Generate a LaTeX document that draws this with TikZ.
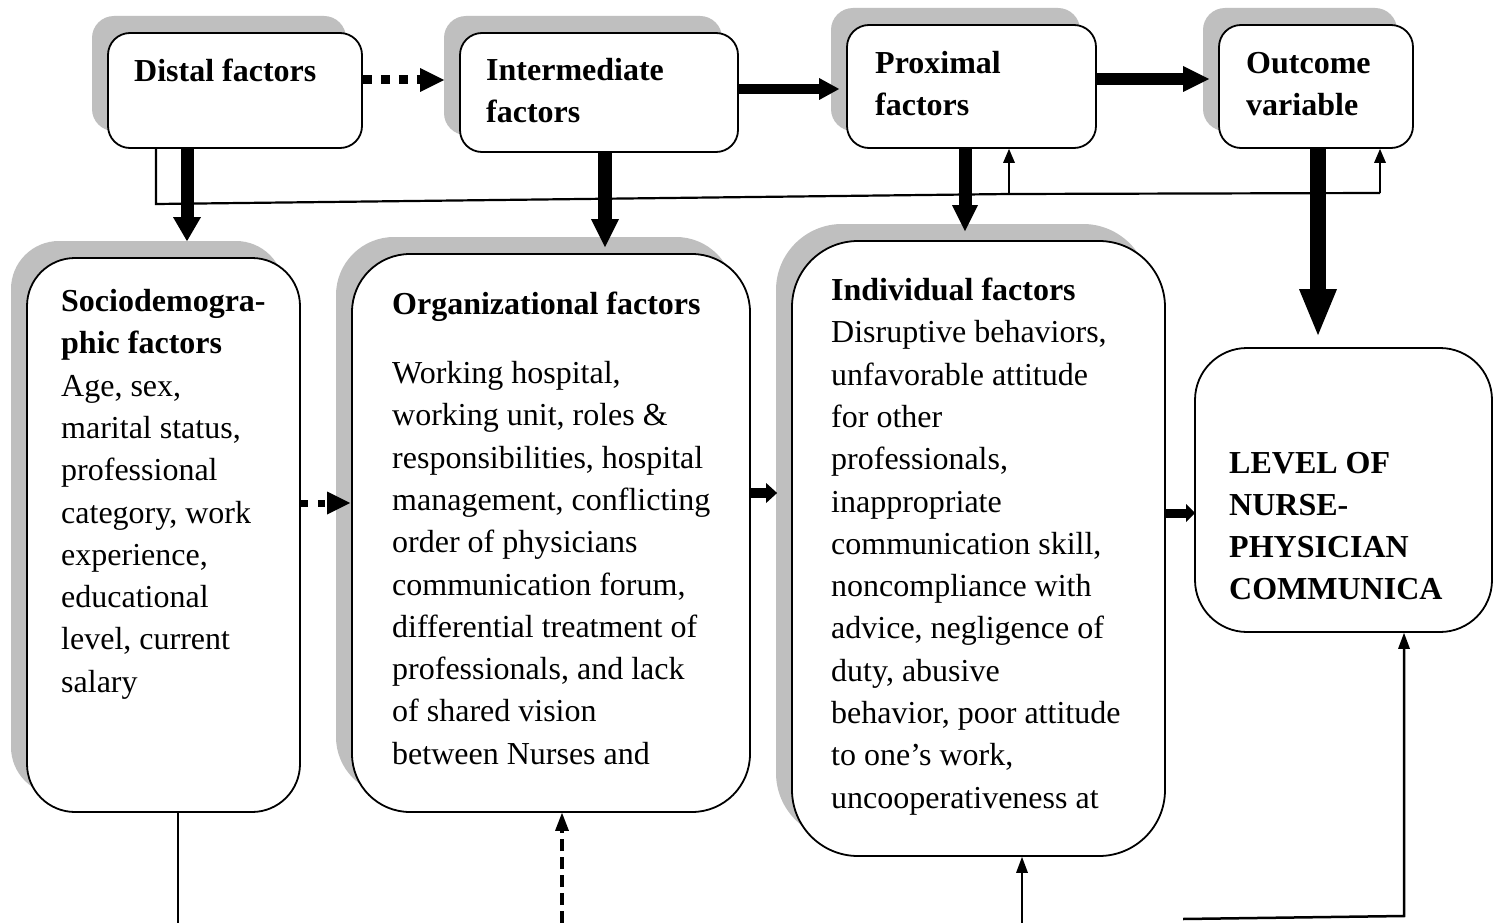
\documentclass[tikz,border=0pt]{standalone}
\usepackage{fontspec}
\setmainfont{Liberation Serif}
\usetikzlibrary{arrows.meta,shadows,calc}
\definecolor{shadowgray}{HTML}{BFBFBF}
\newcommand{\txtblock}[1]{\parbox[t]{14cm}{\fontsize{32}{42.3}\selectfont #1}}
\begin{document}
\begin{tikzpicture}[x=1pt,y=-1pt,
  box/.style={draw=black, line width=1.8pt, fill=white, rounded corners=#1, inner sep=0pt,
    general shadow={fill=shadowgray, shadow xshift=-16pt, shadow yshift=17pt}},
  plainbox/.style={draw=black, line width=1.8pt, fill=white, rounded corners=#1, inner sep=0pt},
  txt/.style={anchor=base west, inner sep=0pt},
  dotline/.style={line width=#1, dash pattern=on #1 off 9pt, line cap=butt,
    -{Triangle[length=24pt,width=24pt,line width=0pt]}},
  thinline/.style={line width=2.2pt},
  thintip/.style={thinline, -{Triangle[length=14pt,width=12pt,line width=0pt]}}
]
\fill[white] (0,0) rectangle (1499,923);
\useasboundingbox (0,0) rectangle (1499,923);

% boxes
\node[box=22pt, minimum width=254pt, minimum height=115pt] (distal) at (235,90.5) {};
\node[box=22pt, minimum width=278pt, minimum height=119pt] (inter) at (599,92.5) {};
\node[box=22pt, minimum width=249pt, minimum height=123pt] (prox) at (971.5,86.5) {};
\node[box=22pt, minimum width=194pt, minimum height=123pt] (outc) at (1316,86.5) {};
\node[box=48pt, minimum width=273pt, minimum height=554pt] (socio) at (163.5,535) {};
\node[box=58pt, minimum width=398pt, minimum height=558pt] (org) at (551,533) {};
\node[box=66pt, minimum width=373pt, minimum height=615pt] (indiv) at (978.5,548.5) {};
\node[plainbox=52pt, minimum width=297pt, minimum height=284pt] (level) at (1343.5,490) {};

% texts
\node[txt] (tdistal) at (134,81.5) {\txtblock{\bfseries Distal factors}};
\node[txt] (tinter) at (486,80.5) {\txtblock{\bfseries Intermediate\\factors}};
\node[txt] (tprox) at (875,73.5) {\txtblock{\bfseries Proximal\\factors}};
\node[txt] (toutc) at (1246,73.5) {\txtblock{\bfseries Outcome\\variable}};
\node[txt] (tsocio) at (61,311.5) {\txtblock{{\bfseries Sociodemogra-\\phic factors}\\Age, sex,\\marital status,\\professional\\category, work\\experience,\\educational\\level, current\\salary}};
\node[txt] (torg) at (392,314.5) {\txtblock{{\bfseries Organizational factors}\\[26.7pt]Working hospital,\\working unit, roles \&\\responsibilities, hospital\\management, conflicting\\order of physicians\\communication forum,\\differential treatment of\\professionals, and lack\\of shared vision\\between Nurses and}};
\node[txt] (tindiv) at (831,300.5) {\txtblock{{\bfseries Individual factors}\\Disruptive behaviors,\\unfavorable attitude\\for other\\professionals,\\inappropriate\\communication skill,\\noncompliance with\\advice, negligence of\\duty, abusive\\behavior, poor attitude\\to one’s work,\\uncooperativeness at}};
\node[txt] (tlevel) at (1229,473) {\txtblock{\bfseries LEVEL OF\\NURSE-\\PHYSICIAN\\COMMUNICA}};

% top row horizontal connectors
\draw[dotline=9pt] ([yshift=10.5pt]distal.east) -- ([xshift=-15pt,yshift=12.5pt]inter.west);
\draw[line width=10pt, -{Triangle[length=20pt,width=22pt,line width=0pt]}] ([yshift=3.5pt]inter.east) -- ([xshift=-7pt,yshift=-2.5pt]prox.west);
\draw[line width=12pt, -{Triangle[length=26pt,width=26pt,line width=0pt]}] ([yshift=7.5pt]prox.east) -- ([xshift=-9pt,yshift=7.5pt]outc.west);

% feedback thin line
\coordinate (fbL) at (156,204);
\coordinate (fbM) at (1009,194);
\coordinate (fbR) at (1380,193);
\draw[thinline] ([xshift=-79pt]distal.south) -- (fbL) -- (fbM) -- (fbR);
\draw[thintip] (fbM) -- (fbM |- prox.south);
\draw[thintip] (fbR) -- (fbR |- outc.south);

% vertical down connectors
\draw[line width=13pt, -{Triangle[length=24pt,width=28pt,line width=0pt]}] ([xshift=-48pt]distal.south) -- ([xshift=23.5pt,yshift=16pt]socio.north);
\draw[line width=14pt, -{Triangle[length=28pt,width=28pt,line width=0pt]}] ([xshift=6pt]inter.south) -- ([xshift=54pt,yshift=6pt]org.north);
\draw[line width=13pt, -{Triangle[length=26pt,width=26pt,line width=0pt]}] ([xshift=-6.5pt]prox.south) -- ([xshift=-13.5pt,yshift=9pt]indiv.north);
\draw[line width=16pt, -{Triangle[length=46pt,width=38pt,line width=0pt]}] ([xshift=2pt]outc.south) -- ([xshift=-25.5pt,yshift=12pt]level.north);

% middle row connectors
\draw[line width=7pt, dash pattern=on 7pt off 10pt, -{Triangle[length=23pt,width=23pt,line width=0pt]}] ([yshift=32pt]socio.east) -- ([xshift=-1pt,yshift=30pt]org.west);
\draw[line width=10pt, -{Triangle[length=11pt,width=20pt,line width=0pt]}] ([yshift=40pt]org.east) -- ([xshift=-14pt,yshift=55.5pt]indiv.west);
\draw[line width=9pt, -{Triangle[length=9pt,width=18pt,line width=0pt]}] ([yshift=35.5pt]indiv.east) -- ([xshift=1pt,yshift=-23pt]level.west);

% bottom connectors
\coordinate (b1) at (178,923);
\coordinate (b2) at (562,923);
\coordinate (b3) at (1022,923);
\coordinate (b4) at (1183,919);
\coordinate (b5) at (1404,916);
\draw[line width=2.5pt] ([xshift=14.5pt]socio.south) -- (b1);
\draw[line width=4pt, dash pattern=on 12pt off 6pt, -{Triangle[length=18pt,width=14pt,line width=0pt]}] (b2) -- ([xshift=11pt]org.south);
\draw[line width=2.5pt, -{Triangle[length=16pt,width=12pt,line width=0pt]}] (b3) -- ([xshift=43.5pt]indiv.south);
\draw[line width=2.5pt, -{Triangle[length=16pt,width=12pt,line width=0pt]}] (b4) -- (b5) -- ([xshift=60.5pt]level.south);
\end{tikzpicture}
\end{document}
